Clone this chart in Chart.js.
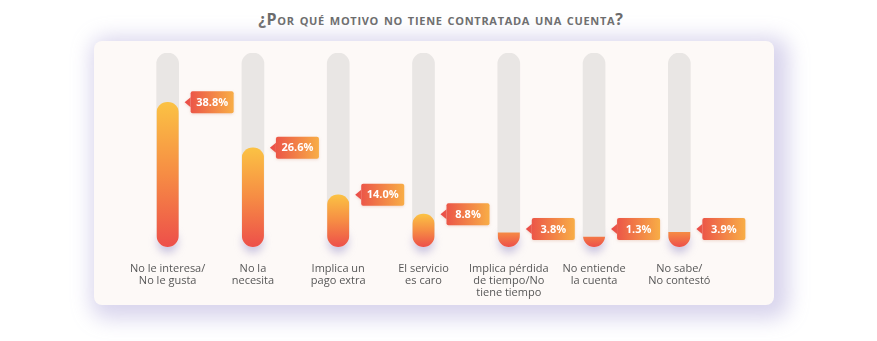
<!DOCTYPE html>
<html>
<head>
<meta charset="utf-8">
<script src="https://cdn.jsdelivr.net/npm/chart.js@4/dist/chart.umd.min.js"></script>
<style>
  html, body { margin: 0; padding: 0; background: #ffffff; }
  body { width: 877px; height: 341px; position: relative; overflow: hidden; }
  .title {
    position: absolute; top: 8px; left: 0; width: 882px; text-align: center;
    font-family: "Open Sans", sans-serif; font-weight: bold; font-size: 16px;
    font-variant: small-caps; color: #6b6b6b; letter-spacing: 0.7px;
  }
  .card {
    position: absolute; left: 94px; top: 41px; width: 680px; height: 264px;
    background: #fdf9f7; border-radius: 8px;
    box-shadow: 6px 5px 20px 9px rgba(208, 203, 232, 0.8);
  }
  canvas { position: absolute; left: 0; top: 0; }
</style>
</head>
<body>
<div class="title">¿Por qué motivo no tiene contratada una cuenta?</div>
<div class="card"></div>
<canvas id="motivos" width="877" height="341"></canvas>
<script>
// categorías (una línea por elemento) y porcentajes
var categories = [
    ['No le interesa/', 'No le gusta'],
    ['No la', 'necesita'],
    ['Implica un', 'pago extra'],
    ['El servicio', 'es caro'],
    ['Implica pérdida', 'de tiempo/No', 'tiene tiempo'],
    ['No entiende', 'la cuenta'],
    ['No sabe/', 'No contestó'],
];
var shares = [38.8, 26.6, 14.0, 8.8, 3.8, 1.3, 3.9];
var trackMax = 52;

var BAR_W = 22;

function barHeight(chart, v) {
    var y = chart.scales.y;
    return Math.max(y.getPixelForValue(0) - y.getPixelForValue(v), 10);
}

// sombra suave bajo cada barra
var barShadow = {
    id: 'barShadow',
    beforeDatasetsDraw: function(chart) {
        var ctx = chart.ctx;
        chart.getDatasetMeta(0).data.forEach(function(el) {
            ctx.save();
            ctx.filter = 'blur(4px)';
            ctx.fillStyle = 'rgba(140, 130, 195, 0.45)';
            ctx.beginPath();
            ctx.roundRect(el.x - BAR_W / 2 + 1, el.base - 16, BAR_W - 2, 22, 10);
            ctx.fill();
            ctx.restore();
        });
    }
};

// la barra de color queda recortada dentro del carril gris
var trackClip = {
    id: 'trackClip',
    beforeDatasetDraw: function(chart, args) {
        if (args.index !== 0) return;
        var ctx = chart.ctx;
        ctx.save();
        ctx.beginPath();
        chart.getDatasetMeta(1).data.forEach(function(el) {
            ctx.roundRect(el.x - el.width / 2, el.y, el.width, el.base - el.y, el.width / 2);
        });
        ctx.clip();
    },
    afterDatasetDraw: function(chart, args) {
        if (args.index !== 0) return;
        chart.ctx.restore();
    }
};

// etiquetas con flecha a la derecha de cada barra
var valueTags = {
    id: 'valueTags',
    afterDatasetsDraw: function(chart) {
        var ctx = chart.ctx;
        chart.getDatasetMeta(0).data.forEach(function(el, i) {
            var cy = Math.min(el.y, el.base - 18);
            var bx = el.x + 23, bw = 43, bh = 22;
            var g = ctx.createLinearGradient(bx - 6, 0, bx + bw, 0);
            g.addColorStop(0, '#ea4a48');
            g.addColorStop(1, '#f8ad46');
            ctx.save();
            ctx.shadowColor = 'rgba(200, 120, 90, 0.25)';
            ctx.shadowBlur = 3;
            ctx.shadowOffsetY = 1;
            ctx.fillStyle = g;
            ctx.beginPath();
            ctx.moveTo(bx, cy - 5);
            ctx.lineTo(bx - 6, cy);
            ctx.lineTo(bx, cy + 5);
            ctx.closePath();
            ctx.fill();
            ctx.beginPath();
            ctx.roundRect(bx, cy - bh / 2, bw, bh, 2);
            ctx.fill();
            ctx.restore();
            ctx.save();
            ctx.fillStyle = '#ffffff';
            ctx.font = 'bold 11px "Open Sans"';
            ctx.textAlign = 'center';
            ctx.textBaseline = 'middle';
            ctx.fillText(shares[i].toFixed(1) + '%', bx + bw / 2, cy + 0.5);
            ctx.restore();
        });
    }
};

var chart = new Chart(document.getElementById('motivos'), {
    type: 'bar',
    data: {
        labels: categories,
        datasets: [{
            label: 'Porcentaje',
            data: shares,
            grouped: false,
            barThickness: BAR_W,
            minBarLength: 10,
            borderSkipped: false,
            borderRadius: function(c) {
                var h = barHeight(c.chart, c.raw);
                var top = h >= BAR_W ? BAR_W / 2 : 0;
                return {topLeft: top, topRight: top, bottomLeft: 0, bottomRight: 0};
            },
            backgroundColor: function(c) {
                var area = c.chart.chartArea;
                if (!area) return '#f58a42';
                var y = c.chart.scales.y;
                var bottom = y.getPixelForValue(0);
                var top = Math.min(y.getPixelForValue(c.raw), bottom - 30);
                var g = c.chart.ctx.createLinearGradient(0, top, 0, bottom);
                g.addColorStop(0, '#fbc244');
                g.addColorStop(0.5, '#f68c44');
                g.addColorStop(1, '#ed4f4a');
                return g;
            },
        }, {
            label: 'Total',
            data: categories.map(function() { return trackMax; }),
            grouped: false,
            barThickness: BAR_W,
            borderSkipped: false,
            borderRadius: BAR_W / 2,
            backgroundColor: '#e9e6e4',
        }]
    },
    options: {
        responsive: false,
        animation: false,
        devicePixelRatio: 1,
        layout: {padding: {left: 125, right: 155, top: 53, bottom: 34}},
        plugins: {
            legend: {display: false},
            tooltip: {enabled: false},
        },
        scales: {
            y: {display: false, min: 0, max: trackMax},
            x: {
                grid: {display: false, drawTicks: false},
                border: {display: false},
                ticks: {
                    color: '#575757',
                    font: {family: 'Open Sans', size: 11, lineHeight: 1.1},
                    padding: 16,
                    maxRotation: 0,
                    autoSkip: false,
                },
                afterFit: function(s) { s.height = 60; },
            }
        }
    },
    plugins: [barShadow, trackClip, valueTags]
});
</script>
</body>
</html>
